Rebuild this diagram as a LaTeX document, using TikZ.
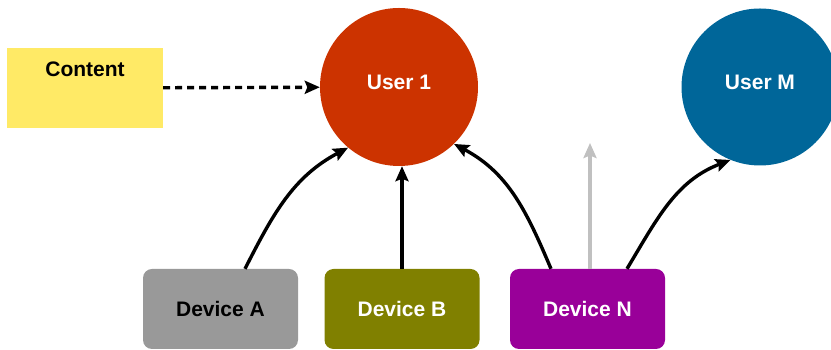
\documentclass[tikz,border=0pt]{standalone}
\usepackage{fontspec}
\setmainfont{Liberation Sans}
\usepackage{tikz}
\usetikzlibrary{positioning, arrows.meta}

\definecolor{contentyellow}{HTML}{FFEA66}
\definecolor{userred}{HTML}{CC3300}
\definecolor{userblue}{HTML}{006699}
\definecolor{devgray}{HTML}{999999}
\definecolor{devolive}{HTML}{808000}
\definecolor{devpurple}{HTML}{990099}
\definecolor{arrowgray}{HTML}{C0C0C0}

\begin{document}
\begin{tikzpicture}[
    x=1pt, y=1pt,
    lbl/.style={font=\fontsize{21}{24}\selectfont\bfseries},
    device/.style={rectangle, rounded corners=9pt, minimum width=155pt, minimum height=80pt, inner sep=0pt, lbl},
    user/.style={circle, minimum size=157pt, inner sep=0pt, text=white, text depth=10pt, lbl},
    arrow/.style={-{Stealth[length=15pt, width=13pt, inset=2.5pt]}, line width=3.4pt}
]
\useasboundingbox (0,0) rectangle (831,350);

\node[rectangle, fill=contentyellow, minimum width=156pt, minimum height=80pt,
      label={[lbl, anchor=center, yshift=-21pt]north:Content}] (content) at (85,262) {};

\node[user, fill=userred, minimum size=158pt] (user1) at (399,263) {User 1};
\node[user, fill=userblue] (userM) at (760,263) {User M};

\node[device, fill=devgray] (devA) at (220.5,41) {Device A};
\node[device, fill=devolive, text=white] (devB) at (402,41) {Device B};
\node[device, fill=devpurple, text=white] (devN) at (587.5,41) {Device N};

\coordinate (up) at (590,207);

\draw[arrow, dash pattern=on 7pt off 5pt] (content) -- (user1);
\draw[arrow] ([xshift=24.5pt]devA.north) to[out=63, in=208] (user1.230);
\draw[arrow] (devB.north) -- (devB.north |- user1.south);
\draw[arrow] ([xshift=-36.5pt]devN.north) to[out=113, in=-28] (user1.-46);
\draw[arrow, draw=arrowgray, fill=arrowgray, line width=4pt] ([xshift=2.5pt]devN.north) -- (up);
\draw[arrow] ([xshift=39.5pt]devN.north) to[out=59, in=201] (userM.248);

\end{tikzpicture}
\end{document}
